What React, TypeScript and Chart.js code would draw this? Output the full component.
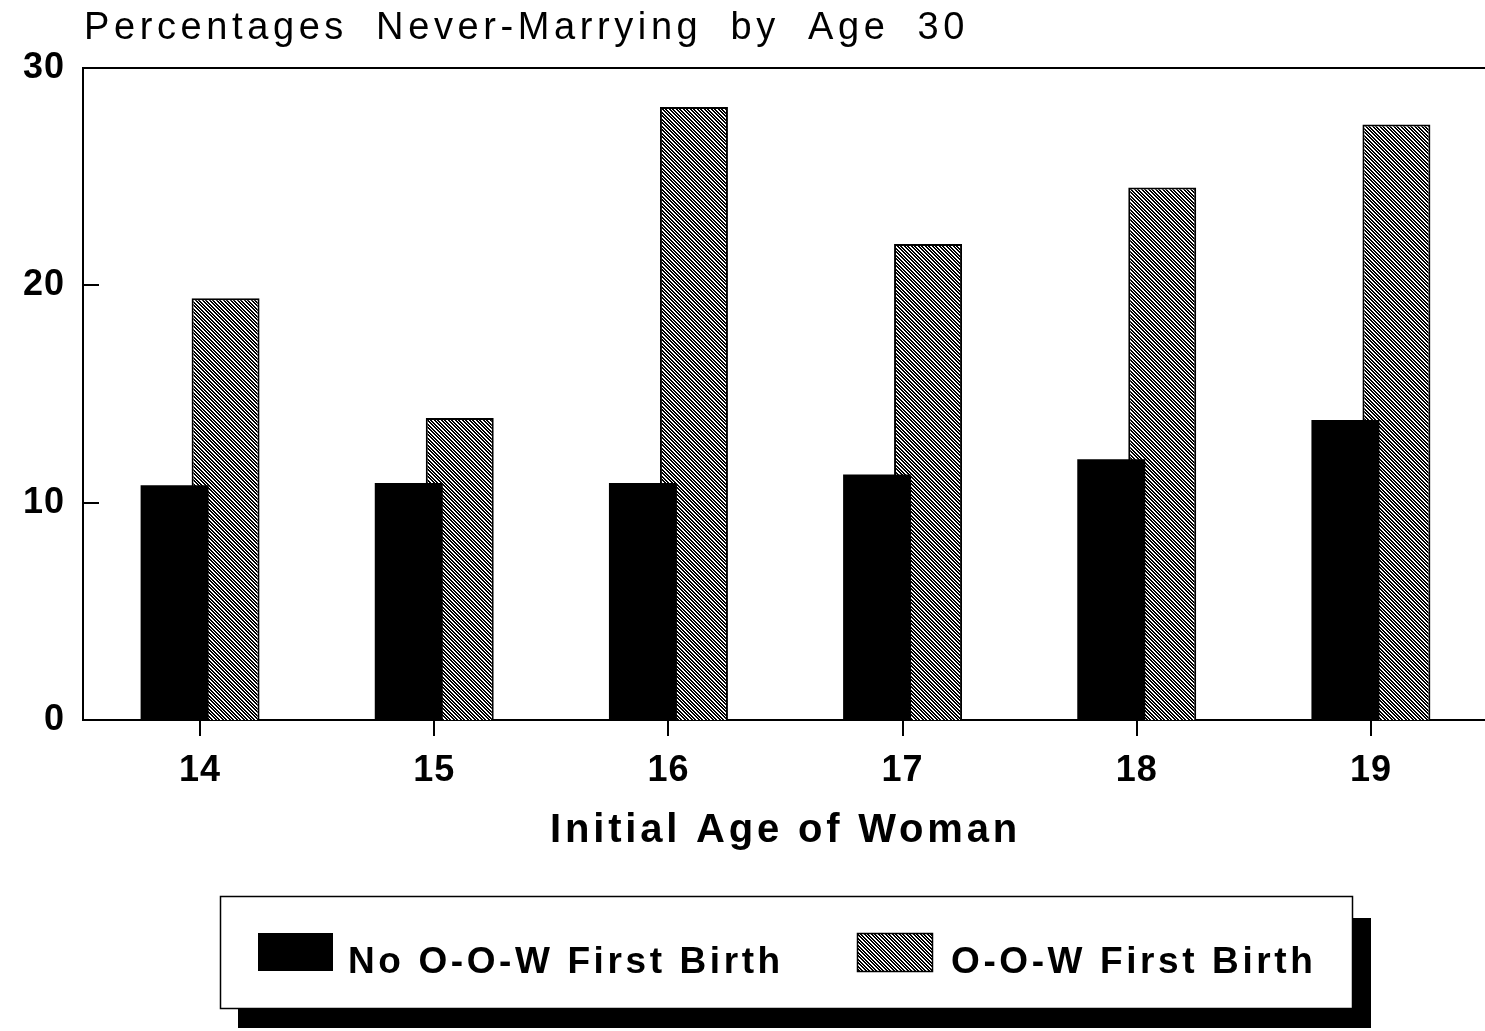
import React, { useEffect, useRef } from "react";
import { Chart, registerables } from "chart.js";

Chart.register(...registerables);

// ---- data ----
const categories = ["14", "15", "16", "17", "18", "19"];
const noOowFirstBirth = [10.8, 10.9, 10.9, 11.3, 12.0, 13.8];
const oowFirstBirth = [19.4, 13.9, 28.2, 21.9, 24.5, 27.4];
const seriesLabels = ["No O-O-W First Birth", "O-O-W First Birth"];
const yTicks = [0, 10, 20, 30];
const chartTitle = "Percentages Never-Marrying by Age 30";
const xAxisTitle = "Initial Age of Woman";

const FONT = "'Liberation Sans', Arial, Helvetica, sans-serif";

function makeHatch(): CanvasPattern | string {
  const n = 7;
  const row = [1, 1, 0, 1, 1, 0, 0];
  const c = document.createElement("canvas");
  c.width = n;
  c.height = n;
  const g = c.getContext("2d");
  if (!g) return "#888";
  g.fillStyle = "#fff";
  g.fillRect(0, 0, n, n);
  g.fillStyle = "#000";
  for (let y = 0; y < n; y++) {
    for (let x = 0; x < n; x++) {
      if (row[(((x - y) % n) + n) % n]) g.fillRect(x, y, 1, 1);
    }
  }
  return g.createPattern(c, "repeat") || "#888";
}

const decorPlugin = {
  id: "decor",
  beforeLayout(chart: any) {
    (chart.ctx as any).letterSpacing = "1px";
  },
  beforeDraw(chart: any) {
    (chart.ctx as any).letterSpacing = "1px";
  },
  afterDraw(chart: any) {
    const ctx = chart.ctx as any;
    const area = chart.chartArea;
    const yScale = chart.scales.y;
    ctx.save();
    ctx.strokeStyle = "#000";
    ctx.lineWidth = 2;
    // top frame line
    ctx.beginPath();
    ctx.moveTo(area.left, area.top);
    ctx.lineTo(area.right, area.top);
    ctx.stroke();
    // inward y ticks
    yScale.ticks.forEach((t: any) => {
      const py = Math.round(yScale.getPixelForValue(t.value));
      ctx.beginPath();
      ctx.moveTo(area.left, py);
      ctx.lineTo(area.left + 16, py);
      ctx.stroke();
    });

    // chart title
    ctx.fillStyle = "#000";
    ctx.textAlign = "left";
    ctx.textBaseline = "alphabetic";
    ctx.font = `normal 38px ${FONT}`;
    ctx.letterSpacing = "4.6px";
    ctx.wordSpacing = "13px";
    ctx.fillText(chartTitle, area.left + 1, 39);
    ctx.wordSpacing = "0px";

    const cx = (area.left + area.right) / 2;

    // x axis title
    ctx.font = `bold 40px ${FONT}`;
    ctx.letterSpacing = "3.8px";
    ctx.textAlign = "center";
    ctx.fillText(xAxisTitle, cx, 842);

    // legend box with shadow
    const boxW = 1132;
    const boxH = 112;
    const boxL = Math.round(cx - boxW / 2);
    const boxT = 896;
    ctx.fillStyle = "#000";
    ctx.fillRect(boxL + 18, boxT + 22, boxW + 1, boxH - 2);
    ctx.fillStyle = "#fff";
    ctx.fillRect(boxL, boxT, boxW, boxH);
    ctx.lineWidth = 1.5;
    ctx.strokeStyle = "#000";
    ctx.strokeRect(boxL + 0.5, boxT + 0.5, boxW, boxH);

    const ds = chart.data.datasets;
    const items = [
      { sx: boxL + 38, tx: boxL + 128 },
      { sx: boxL + 637, tx: boxL + 731 },
    ];
    ctx.font = `bold 37px ${FONT}`;
    ctx.letterSpacing = "3.6px";
    ctx.textAlign = "left";
    items.forEach((it, i) => {
      const d = ds[i];
      ctx.fillStyle = d.backgroundColor;
      ctx.fillRect(it.sx, 933, 75, 38);
      if (i === 1) {
        ctx.lineWidth = 1.5;
        ctx.strokeStyle = "#000";
        ctx.strokeRect(it.sx + 0.5, 933.5, 75, 38);
      }
      ctx.fillStyle = "#000";
      ctx.fillText(d.label, it.tx, 973);
    });
    ctx.restore();
  },
};

export default function App() {
  const ref = useRef<HTMLCanvasElement>(null);
  useEffect(() => {
    const canvas = ref.current;
    if (!canvas) return;
    const hatch = makeHatch();
    const tickFont = { family: FONT, size: 36, weight: "bold" as const };
    const chart = new Chart(canvas, {
      type: "bar",
      data: {
        labels: categories,
        datasets: [
          {
            label: seriesLabels[0],
            data: noOowFirstBirth,
            backgroundColor: "#000",
            borderColor: "#000",
            borderWidth: 0,
            categoryPercentage: 0.4355,
            barPercentage: 1.333,
          },
          {
            label: seriesLabels[1],
            data: oowFirstBirth,
            backgroundColor: hatch as any,
            borderColor: "#000",
            borderWidth: 2,
            categoryPercentage: 0.4355,
            barPercentage: 1.333,
          },
        ],
      },
      options: {
        responsive: false,
        animation: false,
        devicePixelRatio: 1,
        layout: { padding: { top: 68, right: 2, left: 0, bottom: 0 } },
        plugins: {
          legend: { display: false },
          title: { display: false },
          tooltip: { enabled: false },
        },
        scales: {
          x: {
            type: "category",
            offset: true,
            grid: {
              display: true,
              drawOnChartArea: false,
              drawTicks: true,
              tickLength: 16,
              offset: false,
              color: "#000",
              lineWidth: 2,
            },
            border: { display: true, color: "#000", width: 2 },
            ticks: {
              color: "#000",
              font: tickFont,
              padding: 13,
              maxRotation: 0,
              autoSkip: false,
            },
            afterFit: (s: any) => {
              s.height = 311;
            },
          },
          y: {
            min: 0,
            max: 30,
            grid: { display: false },
            border: { display: true, color: "#000", width: 2 },
            ticks: { stepSize: 10, color: "#000", font: tickFont, padding: 10 },
            afterBuildTicks: (s: any) => {
              s.ticks = yTicks.map((v) => ({ value: v }));
            },
            afterFit: (s: any) => {
              s.width = 83;
            },
          },
        },
      },
      plugins: [decorPlugin],
    });
    return () => chart.destroy();
  }, []);

  return (
    <div
      style={{
        position: "fixed",
        left: 0,
        top: 0,
        width: 1485,
        height: 1031,
        overflow: "hidden",
        background: "#fff",
      }}
    >
      <canvas
        ref={ref}
        width={1490}
        height={1031}
        style={{ display: "block", width: 1490, height: 1031 }}
      />
    </div>
  );
}
